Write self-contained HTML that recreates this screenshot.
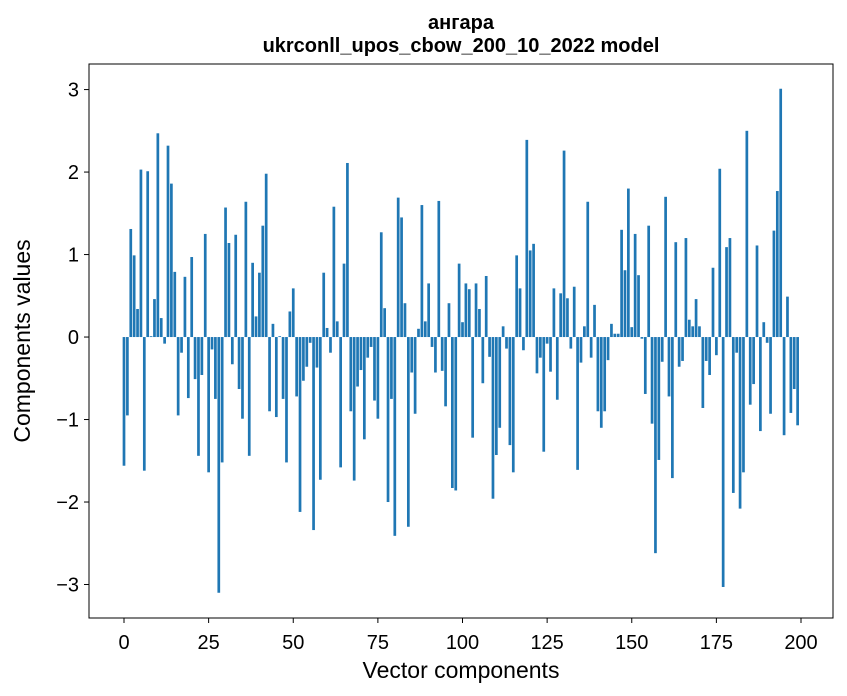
<!DOCTYPE html>
<html><head><meta charset="utf-8"><style>body{margin:0;background:#fff}svg{display:block;font-family:"Liberation Sans","DejaVu Sans",sans-serif}</style></head>
<body>
<svg id="chart" width="847" height="696">
<rect width="847" height="696" fill="#fff"/>
<text x="461" y="29" text-anchor="middle" font-size="20" font-weight="bold">ангара</text>
<text x="461" y="52" text-anchor="middle" font-size="20" font-weight="bold">ukrconll_upos_cbow_200_10_2022 model</text>
<g id="bars"></g>
<g id="axes"></g>
<text x="461" y="678" text-anchor="middle" font-size="23">Vector components</text>
<text transform="translate(30,341) rotate(-90)" text-anchor="middle" font-size="23">Components values</text>
</svg>
<script>
const values = [-1.56,-0.95,1.31,0.99,0.34,2.03,-1.62,2.01,0.01,0.46,2.47,0.23,-0.08,2.32,1.86,0.79,-0.95,-0.19,0.73,-0.74,
0.97,-0.51,-1.44,-0.46,1.25,-1.64,-0.15,-0.75,-3.10,-1.52,1.57,1.14,-0.33,1.24,-0.63,-0.99,1.64,-1.44,0.90,0.25,
0.78,1.35,1.98,-0.90,0.16,-0.97,0.01,-0.75,-1.52,0.31,0.59,-0.72,-2.12,-0.53,-0.36,-0.07,-2.34,-0.37,-1.73,0.78,
0.11,-0.19,1.58,0.19,-1.58,0.89,2.11,-0.90,-1.74,-0.60,-0.40,-1.24,-0.25,-0.12,-0.77,-0.99,1.27,0.35,-2.00,-0.75,
-2.41,1.69,1.45,0.41,-2.30,-0.43,-0.93,0.10,1.60,0.19,0.65,-0.12,-0.43,1.65,-0.41,-0.84,0.41,-1.83,-1.86,0.89,
0.18,0.65,0.58,-1.22,0.65,0.34,-0.56,0.74,-0.24,-1.96,-1.43,-1.10,0.13,-0.14,-1.31,-1.64,0.99,0.59,-0.16,2.39,
1.05,1.13,-0.44,-0.25,-1.39,-0.08,-0.42,0.59,-0.76,0.53,2.26,0.47,-0.14,0.61,-1.61,-0.31,0.13,1.64,-0.25,0.39,
-0.90,-1.10,-0.90,-0.28,0.16,0.04,0.04,1.30,0.81,1.80,0.12,1.25,0.75,-0.02,-0.69,1.35,-1.05,-2.62,-1.49,-0.30,
1.70,-0.72,-1.71,1.15,-0.36,-0.29,1.20,0.21,0.13,0.46,0.13,-0.86,-0.29,-0.46,0.84,-0.22,2.04,-3.03,1.09,1.20,
-1.89,-0.19,-2.08,-1.64,2.50,-0.82,-0.57,1.11,-1.14,0.18,-0.07,-0.93,1.29,1.77,3.01,-1.19,0.49,-0.92,-0.63,-1.07];
const xTicks = [0,25,50,75,100,125,150,175,200];
const yTicks = [-3,-2,-1,0,1,2,3];
const yTickLabels = ["\u22123","\u22122","\u22121","0","1","2","3"];

const L=89,R=833,T=64,B=618;
const x0=-10.34,x1=209.45,y0=-3.406,y1=3.31;
const sx=v=>L+(v-x0)/(x1-x0)*(R-L);
const sy=v=>B-(v-y0)/(y1-y0)*(B-T);
const NS="http://www.w3.org/2000/svg";
const bars=document.getElementById('bars'), axes=document.getElementById('axes');
function mk(tag,attrs,parent){const e=document.createElementNS(NS,tag);for(const k in attrs)e.setAttribute(k,attrs[k]);parent.appendChild(e);return e;}
values.forEach((v,i)=>{
  const w=sx(0.8)-sx(0);
  const r=mk('rect',{x:sx(i-0.4),y:Math.min(sy(v),sy(0)),width:w,height:Math.abs(sy(v)-sy(0)),fill:'#1f77b4'},bars);
  
  
});
const frame=mk('rect',{x:L,y:T,width:R-L,height:B-T,fill:'none',stroke:'#000','stroke-width':1},axes);


xTicks.forEach(t=>{
  const X=sx(t);
  mk('line',{x1:X,x2:X,y1:B,y2:B+5,stroke:'#000'},axes);
  const tx=mk('text',{x:X,y:B+31,'text-anchor':'middle','font-size':'20'},axes);
  tx.textContent=t;
  
  
});
yTicks.forEach((t,i)=>{
  const Y=sy(t);
  mk('line',{x1:L-5,x2:L,y1:Y,y2:Y,stroke:'#000'},axes);
  const tx=mk('text',{x:L-10,y:Y+7,'text-anchor':'end','font-size':'20'},axes);
  tx.textContent=yTickLabels[i];
  
  
});
</script>
</body></html>
